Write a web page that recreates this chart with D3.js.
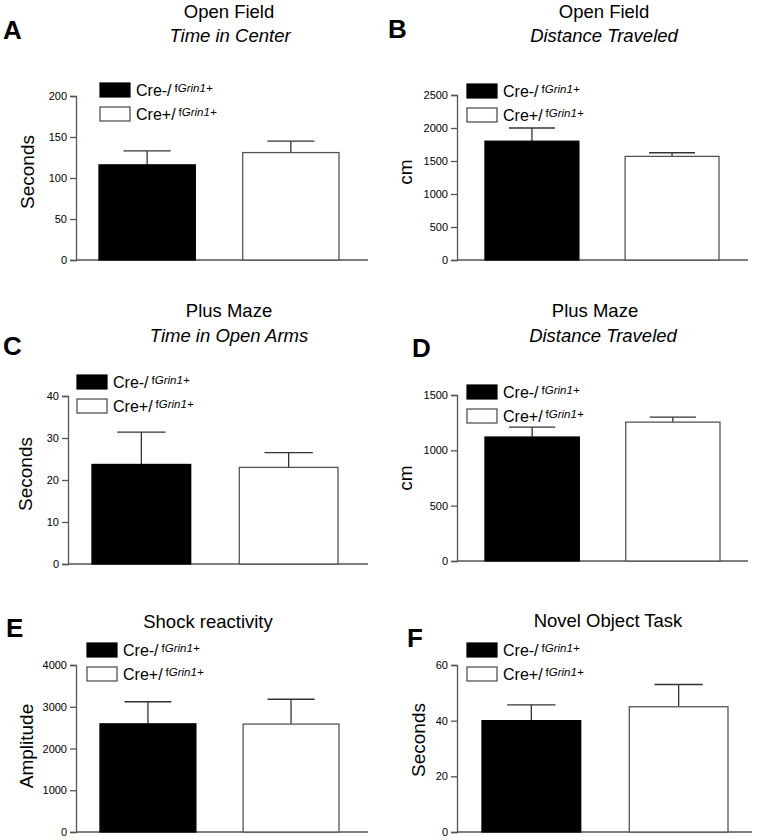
<!DOCTYPE html>
<html>
<head>
<meta charset="utf-8">
<script src="https://cdn.jsdelivr.net/npm/d3@7"></script>
<style>
  html, body { margin: 0; padding: 0; background: #fff; }
  svg { display: block; }
  text { font-family: "Liberation Sans", Arial, Helvetica, sans-serif; fill: #000; }
</style>
</head>
<body>
<svg id="chart" width="757" height="840"></svg>
<script>
// ---------- data ----------
const groups = ["Cre-/", "Cre+/"];
const groupSuperscript = ["Grin1+", "Grin1+"];
const panelLetters = ["A", "B", "C", "D", "E", "F"];
const panelTitles = ["Open Field", "Open Field", "Plus Maze", "Plus Maze", "Shock reactivity", "Novel Object Task"];
const panelSubtitles = ["Time in Center", "Distance Traveled", "Time in Open Arms", "Distance Traveled", "", ""];
const yLabels = ["Seconds", "cm", "Seconds", "cm", "Amplitude", "Seconds"];
const yMax = [200, 2500, 40, 1500, 4000, 60];
const yTickStep = [50, 500, 10, 500, 1000, 20];
const meanCreNeg = [116, 1800, 23.7, 1120, 2590, 40];
const semCreNeg = [17, 200, 7.7, 90, 530, 5.7];
const meanCrePos = [131, 1570, 23, 1255, 2585, 45];
const semCrePos = [14, 55, 3.5, 45, 595, 8];

// ---------- layout (pixel geometry only) ----------
const layout = [
  { axisX: 76,  y0: 260, yTop: 96,  xEnd: 368, band: [99, 339],  legX: 100, legY: 83,
    letter: [3, 39],     t1: [229, 18.3], t2: [230, 41.7], lab: [27, 172] },
  { axisX: 457, y0: 260, yTop: 95,  xEnd: 748, band: [485, 719], legX: 467, legY: 84,
    letter: [388, 38.3], t1: [604, 18.3], t2: [604, 41.7], lab: [405, 172] },
  { axisX: 68,  y0: 564, yTop: 396, xEnd: 368, band: [92, 338],  legX: 77,  legY: 375,
    letter: [3, 355],    t1: [229, 316.7], t2: [229, 341.7], lab: [25, 474] },
  { axisX: 457, y0: 561, yTop: 395, xEnd: 748, band: [485, 720], legX: 467, legY: 385,
    letter: [412, 356.7], t1: [595, 316.7], t2: [603, 341.7], lab: [405, 478] },
  { axisX: 76,  y0: 832, yTop: 665, xEnd: 368, band: [100, 339], legX: 87,  legY: 643,
    letter: [6, 636.7],  t1: [208, 628.3], t2: [208, 650], lab: [26, 746] },
  { axisX: 457, y0: 832, yTop: 665, xEnd: 752, band: [482, 728], legX: 467, legY: 643,
    letter: [407, 646.7], t1: [608, 627.3], t2: [608, 650], lab: [418, 740] }
];

const axisColor = "#555";
const svg = d3.select("#chart");

panelLetters.forEach((letter, i) => {
  const L = layout[i];
  const g = svg.append("g");

  const y = d3.scaleLinear().domain([0, yMax[i]]).range([L.y0, L.yTop]);
  const x = d3.scaleBand().domain(groups).range(L.band).paddingInner(0.33).paddingOuter(0);

  const ticks = d3.range(0, yMax[i] + yTickStep[i] / 2, yTickStep[i]);

  // y axis
  const yAxis = g.append("g")
    .attr("transform", `translate(${L.axisX},0)`)
    .call(d3.axisLeft(y).tickValues(ticks).tickSize(6).tickPadding(3).tickFormat(d3.format("d")));
  yAxis.select(".domain").attr("stroke", axisColor).attr("stroke-width", 1.3);
  yAxis.selectAll(".tick line").attr("stroke", axisColor).attr("stroke-width", 1.3);
  yAxis.selectAll(".tick text")
    .attr("font-family", "'DejaVu Sans', sans-serif")
    .attr("font-size", 11)
    .attr("fill", "#111");

  // x axis line
  g.append("line")
    .attr("x1", L.axisX).attr("x2", L.xEnd)
    .attr("y1", L.y0).attr("y2", L.y0)
    .attr("stroke", axisColor).attr("stroke-width", 1.3);

  const data = [
    { grp: groups[0], mean: meanCreNeg[i], sem: semCreNeg[i], fill: "#000" },
    { grp: groups[1], mean: meanCrePos[i], sem: semCrePos[i], fill: "#fff" }
  ];

  // error bars (upper only)
  const eb = g.selectAll(".eb").data(data).enter().append("g");
  eb.append("line")
    .attr("x1", d => x(d.grp) + x.bandwidth() / 2)
    .attr("x2", d => x(d.grp) + x.bandwidth() / 2)
    .attr("y1", d => y(d.mean))
    .attr("y2", d => y(d.mean + d.sem))
    .attr("stroke", "#333").attr("stroke-width", 1.3);
  eb.append("line")
    .attr("x1", d => x(d.grp) + x.bandwidth() * 0.255)
    .attr("x2", d => x(d.grp) + x.bandwidth() * 0.745)
    .attr("y1", d => y(d.mean + d.sem))
    .attr("y2", d => y(d.mean + d.sem))
    .attr("stroke", "#333").attr("stroke-width", 1.3);

  // bars
  g.selectAll(".bar").data(data).enter().append("rect")
    .attr("x", d => x(d.grp))
    .attr("width", x.bandwidth())
    .attr("y", d => y(d.mean))
    .attr("height", d => L.y0 - y(d.mean))
    .attr("fill", d => d.fill)
    .attr("stroke", d => d.fill === "#000" ? "#000" : axisColor)
    .attr("stroke-width", 1.3);

  // legend
  data.forEach((d, k) => {
    const ly = L.legY + k * 24;
    g.append("rect")
      .attr("x", L.legX).attr("y", ly)
      .attr("width", 30).attr("height", 14)
      .attr("fill", d.fill)
      .attr("stroke", d.fill === "#000" ? "#000" : "#444")
      .attr("stroke-width", 1.2);
    const t = g.append("text")
      .attr("x", L.legX + 36).attr("y", ly + 13)
      .attr("font-size", 16);
    t.append("tspan").text(d.grp);
    t.append("tspan")
      .attr("dx", 3).attr("dy", -4.5)
      .attr("font-size", 11.5)
      .text("f");
    t.append("tspan")
      .attr("font-size", 11.5)
      .attr("font-style", "italic")
      .text(groupSuperscript[k]);
  });

  // panel letter
  g.append("text")
    .attr("x", L.letter[0]).attr("y", L.letter[1])
    .attr("font-size", 26).attr("font-weight", "bold")
    .text(letter);

  // titles
  g.append("text")
    .attr("x", L.t1[0]).attr("y", L.t1[1])
    .attr("text-anchor", "middle").attr("font-size", 18.5)
    .text(panelTitles[i]);
  if (panelSubtitles[i]) {
    g.append("text")
      .attr("x", L.t2[0]).attr("y", L.t2[1])
      .attr("text-anchor", "middle").attr("font-size", 18.5)
      .attr("font-style", "italic")
      .text(panelSubtitles[i]);
  }

  // y label
  g.append("text")
    .attr("transform", `translate(${L.lab[0]},${L.lab[1]}) rotate(-90)`)
    .attr("text-anchor", "middle")
    .attr("dy", "0.35em")
    .attr("font-size", 19)
    .text(yLabels[i]);
});
</script>
</body>
</html>
